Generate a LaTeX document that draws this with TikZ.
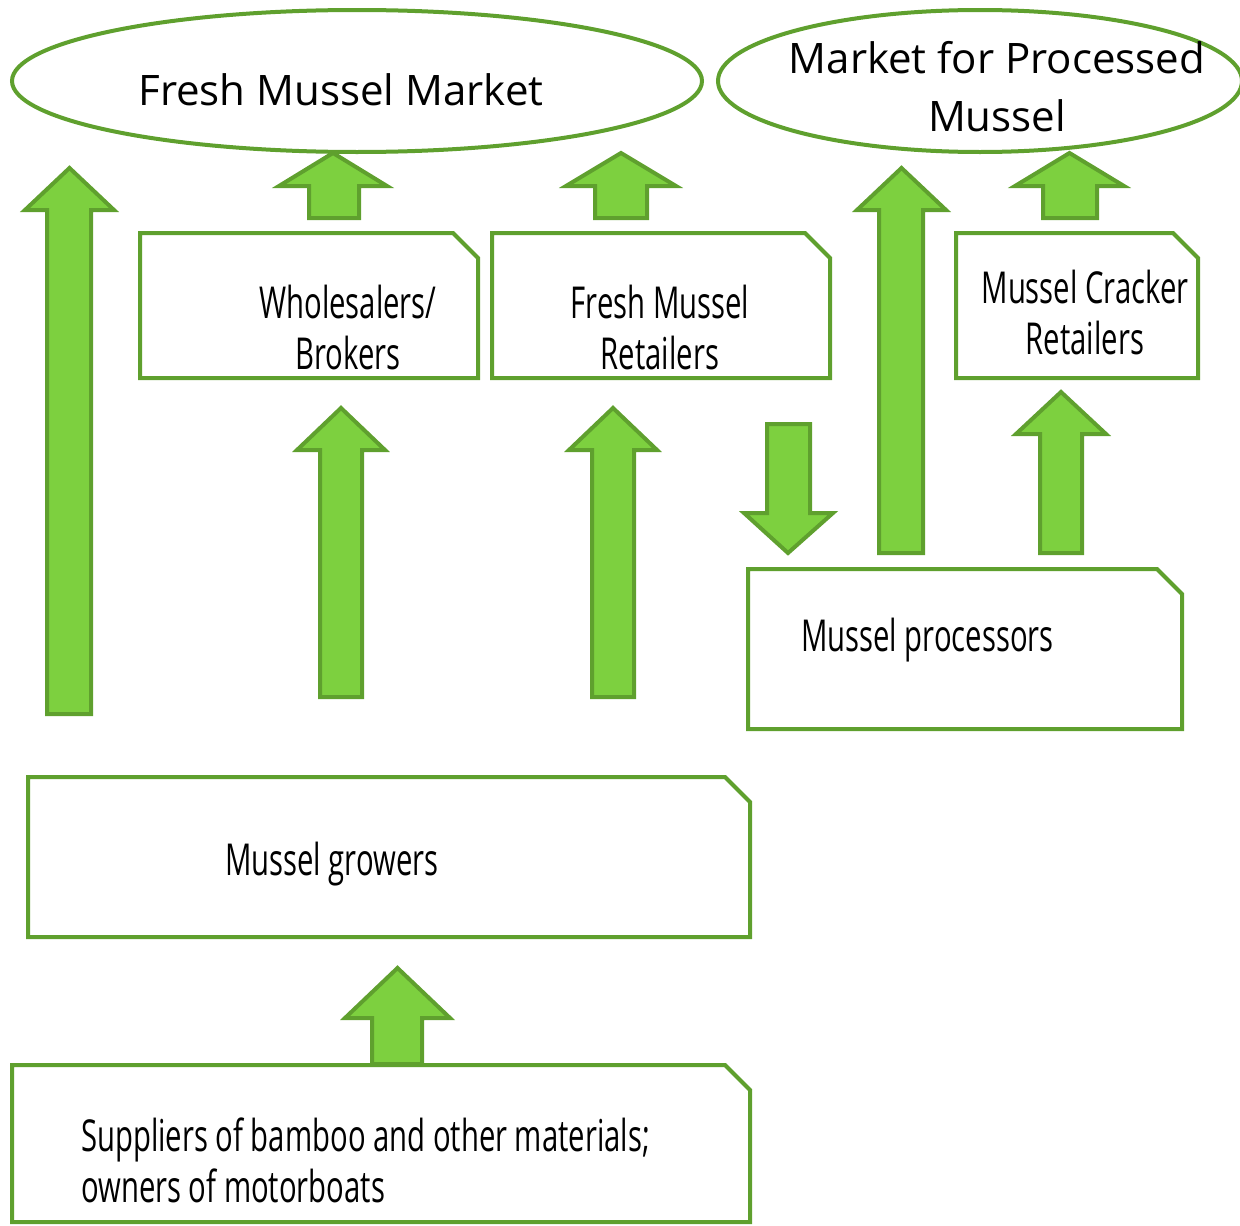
\documentclass[tikz,border=0pt]{standalone}
\usepackage{fontspec}
\setmainfont{Open Sans}
\newfontfamily\narrowfont[FakeStretch=0.665]{Open Sans}
\definecolor{leaf}{HTML}{7DD03F}
\definecolor{leafline}{HTML}{5FA02E}
\tikzset{
  market/.style={draw=leafline, line width=4pt, fill=white},
  stagebox/.style={draw=leafline, line width=4pt, fill=white},
  blockarrow/.style={draw=leafline, fill=leaf, line width=4pt, line join=miter},
  marketlabel/.style={font=\fontsize{42}{58}\selectfont, align=center, inner sep=0pt},
  stagelabel/.style={font=\narrowfont\fontsize{44}{51}\selectfont, inner sep=0pt},
}
% up arrow: head left, shaft left, shaft right, head right, tip y, head base y, bottom y
\newcommand\UpArrow[7]{%
  \draw[blockarrow] ({(#1+#4)/2},#5) -- (#4,#6) -- (#3,#6) -- (#3,#7) -- (#2,#7) -- (#2,#6) -- (#1,#6) -- cycle;}
% box with a snipped top-right corner: left, top, right, bottom
\newcommand\SnipBox[4]{%
  \draw[stagebox] (#1,#2) -- ({#3-25},#2) -- (#3,{#2+25}) -- (#3,#4) -- (#1,#4) -- cycle;}
\begin{document}
\begin{tikzpicture}[x=1pt, y=-1pt]
\useasboundingbox (0,0) rectangle (1240,1226);

% markets
\draw[market] (357,81) ellipse [x radius=345, y radius=71];
\draw[market] (980,81) ellipse [x radius=262, y radius=71];
\node[marketlabel] (fresh) at (341,90) {Fresh Mussel Market};
\node[marketlabel] (processed) at (997,87) {Market for Processed\\Mussel};

% stage boxes
\SnipBox{140}{233}{478}{378}
\SnipBox{492}{233}{830}{378}
\SnipBox{956}{233}{1198}{378}
\SnipBox{748}{569}{1182}{729}
\SnipBox{28}{777}{750}{937}
\SnipBox{12}{1065}{750}{1222}

\node[stagelabel, align=center] (whole) at (348,327) {Wholesalers/\\Brokers};
\node[stagelabel, align=center] (retail) at (660,327) {Fresh Mussel\\Retailers};
\node[stagelabel, align=center] (cracker) at (1085,312) {Mussel Cracker\\Retailers};
\node[stagelabel, anchor=west] (proc) at (801,640) {Mussel processors};
\node[stagelabel, anchor=west] (growers) at (225,864) {Mussel growers};
\node[stagelabel, align=left, anchor=west] (suppliers) at (81,1160) {Suppliers of bamboo and other materials;\\owners of motorboats};

% block arrows
\UpArrow{25}{47}{91}{114}{168}{210}{714}
\UpArrow{279}{309}{359}{387}{153}{186}{218}
\UpArrow{566}{595}{647}{676}{153}{186}{218}
\UpArrow{857}{879}{923}{946}{168}{210}{553}
\UpArrow{1015}{1043}{1097}{1124}{153}{186}{218}
\UpArrow{297}{320}{362}{385}{408}{450}{697}
\UpArrow{569}{592}{634}{657}{408}{450}{697}
\UpArrow{1016}{1040}{1082}{1106}{392}{434}{553}
\UpArrow{345}{372}{422}{450}{968}{1018}{1064}
% down arrow into the processors
\draw[blockarrow] (788,553) -- (833,513) -- (810,513) -- (810,424) -- (767,424) -- (767,513) -- (744,513) -- cycle;
\end{tikzpicture}
\end{document}
